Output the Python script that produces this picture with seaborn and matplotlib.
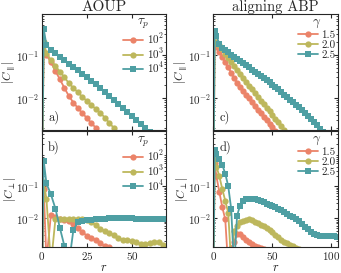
import numpy as np
import pandas as pd
import matplotlib
matplotlib.use("Agg")
import matplotlib.pyplot as plt
import seaborn as sns

# grille en r (meme pour toutes les courbes, tronquee a la longueur de chaque serie)
r_grid = [0, 1] + [2.5 * k for k in range(1, 43)]

colors = ["#EB8369", "#BDB75C", "#4E9FA3"]
markers = ["o", "o", "s"]

# AOUP
tau_labels = ["$10^2$", "$10^3$", "$10^4$"]
a_par_100 = [1e-4, 0.18, 0.10, 0.068, 0.042, 0.027, 0.017, 0.011, 0.0078, 0.0058, 0.0044,
             0.0034, 0.0026, 0.0020, 0.0015]
a_par_1000 = [1e-4, 0.20, 0.11, 0.075, 0.055, 0.041, 0.030, 0.022, 0.017, 0.0135, 0.0105,
              0.0085, 0.0068, 0.0055, 0.0044, 0.0035, 0.0026, 0.0020, 0.0015]
a_par_10000 = [1e-4, 0.40, 0.17, 0.13, 0.11, 0.092, 0.075, 0.062, 0.052, 0.044, 0.037, 0.031,
               0.025, 0.021, 0.017, 0.014, 0.011, 0.0088, 0.0071, 0.0058, 0.0047, 0.0038,
               0.0031, 0.0025, 0.0020, 0.0016]
a_perp_100 = [1e-4, 0.08, 5e-4, 0.013, 0.011, 0.0095, 0.009, 0.0085, 0.0068, 0.005, 0.0038,
              0.0029, 0.0025, 0.0022, 0.0017, 0.0014, 0.0013, 0.0010]
a_perp_1000 = [1e-4, 0.13, 0.04, 4e-4, 0.0095, 0.0098, 0.0098, 0.0097, 0.0096, 0.0094, 0.0093,
               0.009, 0.0075, 0.0063, 0.0048, 0.004, 0.0035, 0.003, 0.0024, 0.0022, 0.0021,
               0.002, 0.0018, 0.0016, 0.0016, 0.0017, 0.0018, 0.0019, 0.0015]
a_perp_10000 = [1e-4, 0.6, 0.12, 0.055, 0.02, 0.005, 0.0014, 4e-4, 0.0045, 0.0075, 0.0085,
                0.009, 0.0092, 0.0094, 0.0097, 0.0099, 0.010, 0.0101, 0.0101, 0.0101, 0.010,
                0.010, 0.0099, 0.0098, 0.0097, 0.0096, 0.0096, 0.0095, 0.0094]

# aligning ABP
gam_labels = ["1.5", "2.0", "2.5"]
b_par_15 = [1e-4, 0.178, 0.151, 0.117, 0.0891, 0.0676, 0.0513, 0.0389, 0.0295, 0.0224, 0.0182,
            0.0148, 0.0120, 0.0098, 0.0079, 0.0065, 0.0052, 0.0044, 0.0036, 0.0030, 0.0025,
            0.0021, 0.0017, 0.0014]
b_par_20 = [1e-4, 0.20, 0.20, 0.174, 0.135, 0.107, 0.0851, 0.0692, 0.0562, 0.0457, 0.0363,
            0.0295, 0.0234, 0.0191, 0.0158, 0.0129, 0.0107, 0.0087, 0.0072, 0.0059, 0.0049,
            0.0040, 0.0033, 0.0028, 0.0022, 0.0018, 0.0015]
b_par_25 = [1e-4, 0.355, 0.282, 0.178, 0.148, 0.129, 0.115, 0.102, 0.0912, 0.0813, 0.0724,
            0.0646, 0.0575, 0.0513, 0.0457, 0.0407, 0.0363, 0.0324, 0.0288, 0.0257, 0.0229,
            0.0204, 0.0180, 0.0158, 0.0138, 0.0120, 0.0105, 0.0091, 0.0079, 0.0069, 0.0060,
            0.0052, 0.0045, 0.0038, 0.0032, 0.0028, 0.0023, 0.0019, 0.0016]
b_perp_15 = [1e-4, 0.5, 0.2, 0.065, 0.022, 0.0093, 3e-4, 0.0012, 0.0019, 0.0033, 0.0034,
             0.0026, 0.0022, 0.0019, 0.0016, 0.0014, 0.0013, 0.0012, 0.0011, 0.0010]
b_perp_20 = [1e-4, 0.64, 0.4, 0.2, 0.08, 0.035, 0.015, 4e-4, 0.004, 0.006, 0.0076, 0.0085,
             0.0092, 0.0093, 0.0088, 0.008, 0.0072, 0.0064, 0.0057, 0.0051, 0.0045, 0.0038,
             0.0031, 0.0026, 0.0022, 0.0019, 0.0017, 0.0015, 0.0014, 0.0012, 0.0011, 0.0010]
b_perp_25 = [1e-4, 1.3, 1.0, 0.7, 0.45, 0.24, 0.1, 0.02, 3e-4, 0.012, 0.025, 0.035, 0.04,
             0.041, 0.04, 0.039, 0.037, 0.034, 0.031, 0.028, 0.026, 0.024, 0.022, 0.020,
             0.018, 0.016, 0.014, 0.012, 0.011, 0.0095, 0.0082, 0.0068, 0.0056, 0.0046,
             0.0039, 0.0034, 0.0031, 0.0029, 0.0028, 0.0028, 0.0028, 0.0028, 0.0028, 0.0027]


def to_long(series, labels):
    rows = []
    for vals, lab in zip(series, labels):
        for r, v in zip(r_grid[:len(vals)], vals):
            rows.append({"r": r, "C": v, "lab": lab})
    return pd.DataFrame(rows)


def panel(ax, series, labels, title, ylim, xlim, xticks, ylabel, tag, tagpos):
    df = to_long(series, labels)
    ax.set_yscale("log")
    sns.lineplot(data=df, x="r", y="C", hue="lab", style="lab", hue_order=labels,
                 style_order=labels, palette=colors, markers=dict(zip(labels, markers)),
                 dashes=False, estimator=None, sort=False, ax=ax, lw=1.3,
                 markersize=4.5, markeredgewidth=0)
    ax.set_xlim(*xlim)
    ax.set_ylim(*ylim)
    ax.set_xticks(xticks)
    ax.set_yticks([1e-2, 1e-1])
    ax.tick_params(which="both", direction="in", top=True, right=True, labelsize=8, pad=2)
    ax.tick_params(which="major", length=3)
    ax.tick_params(which="minor", length=1.5)
    ax.set_ylabel(ylabel, fontsize=8.5)
    ax.yaxis.set_label_coords(-0.19, 0.5)
    ax.set_xlabel("")
    ax.legend(title=title, frameon=False, loc="upper right", fontsize=8,
              title_fontsize=9.5, handlelength=1.8, labelspacing=0.0,
              borderaxespad=0.1, borderpad=0.1, handletextpad=0.3)
    ax.text(tagpos[0], tagpos[1], tag, transform=ax.transAxes, fontsize=9)


sns.set_style("ticks")
plt.rcParams["font.family"] = ["serif"]
plt.rcParams["font.serif"] = ["cmr10", "DejaVu Serif"]
plt.rcParams["mathtext.fontset"] = "cm"
plt.rcParams["axes.formatter.use_mathtext"] = True
plt.rcParams["axes.linewidth"] = 0.8

fig = plt.figure(figsize=(3.41, 2.73), dpi=100)
ax_a = fig.add_axes([0.123, 0.524, 0.364, 0.425])
ax_b = fig.add_axes([0.123, 0.095, 0.364, 0.425])
ax_c = fig.add_axes([0.626, 0.524, 0.365, 0.425])
ax_d = fig.add_axes([0.626, 0.095, 0.365, 0.425])

ylim_top = (1.8e-3, 0.9)
ylim_bot = (1.3e-3, 5.0)

panel(ax_a, [a_par_100, a_par_1000, a_par_10000], tau_labels, r"$\tau_p$", ylim_top,
      (0, 69), [0, 25, 50], r"$|C_{\parallel}|$", "a)", (0.05, 0.08))
panel(ax_b, [a_perp_100, a_perp_1000, a_perp_10000], tau_labels, r"$\tau_p$", ylim_bot,
      (0, 69), [0, 25, 50], r"$|C_{\perp}|$", "b)", (0.05, 0.83))
panel(ax_c, [b_par_15, b_par_20, b_par_25], gam_labels, r"$\gamma$", ylim_top,
      (0, 105.5), [0, 50, 100], r"$|C_{\parallel}|$", "c)", (0.05, 0.08))
panel(ax_d, [b_perp_15, b_perp_20, b_perp_25], gam_labels, r"$\gamma$", ylim_bot,
      (0, 105.5), [0, 50, 100], r"$|C_{\perp}|$", "d)", (0.05, 0.83))

for ax in (ax_a, ax_c):
    ax.tick_params(labelbottom=False)
for ax in (ax_b, ax_d):
    ax.set_xlabel("$r$", fontsize=9, labelpad=0)

ax_a.set_title("AOUP", fontsize=11, pad=2)
ax_c.set_title("aligning ABP", fontsize=10.5, pad=2)

fig.savefig("out.png", dpi=100)
